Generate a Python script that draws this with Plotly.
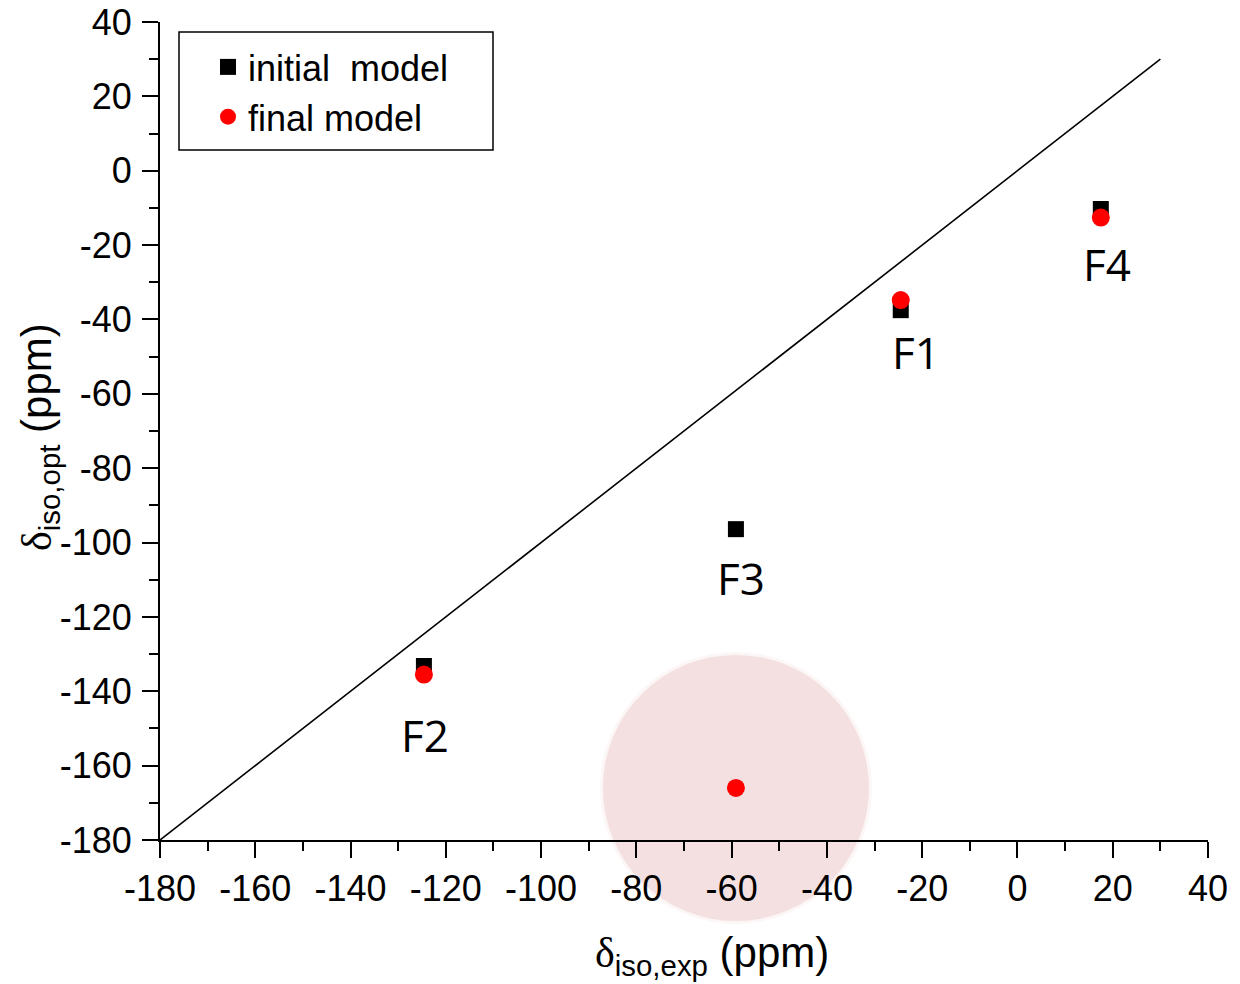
import plotly.graph_objects as go

# ---- data ----
initial_x = [-24.5, -124.6, -59.1, 17.5]
initial_y = [-37.5, -133.2, -96.4, -10.3]
final_x = [-24.5, -124.6, 17.5, -59.1]
final_y = [-34.8, -135.5, -12.6, -166.0]
diag_x = [-180, 30]
diag_y = [-180, 30]
label_text = ["F1", "F2", "F3", "F4"]
label_x = [-21.2, -124.4, -58.0, 18.8]
label_y = [-48.8, -151.8, -109.5, -25.1]
highlight_x = [-59.1]
highlight_y = [-166.0]
tick_vals = [-180, -160, -140, -120, -100, -80, -60, -40, -20, 0, 20, 40]
tick_text = ["-180", "-160", "-140", "-120", "-100", "-80", "-60", "-40", "-20", "0", "20", "40"]

fig = go.Figure()

# highlight circle (behind everything), with a soft edge
for size, color in [(272, "rgba(236,205,205,0.18)"), (266, "rgba(236,205,205,0.55)")]:
    fig.add_trace(go.Scatter(
        x=highlight_x, y=highlight_y, mode="markers", showlegend=False,
        marker=dict(size=size, color=color, line=dict(width=0)),
        cliponaxis=False, hoverinfo="skip"))

fig.add_trace(go.Scatter(
    x=diag_x, y=diag_y, mode="lines", showlegend=False,
    line=dict(color="black", width=1.6), hoverinfo="skip"))

fig.add_trace(go.Scatter(
    x=initial_x, y=initial_y, mode="markers", name="initial  model",
    marker=dict(symbol="square", size=16, color="black")))

fig.add_trace(go.Scatter(
    x=final_x, y=final_y, mode="markers", name="final model",
    marker=dict(symbol="circle", size=18, color="#ff0000")))

for t, x, y in zip(label_text, label_x, label_y):
    fig.add_annotation(x=x, y=y, xref="x", yref="y", text=t, showarrow=False,
                       font=dict(family="Open Sans", size=44, color="black"))

tickfont = dict(family="Liberation Sans, Arial", size=36, color="black")
axis_common = dict(
    showgrid=False, zeroline=False, showline=True, linecolor="black", linewidth=2,
    ticks="outside", ticklen=16, tickwidth=2, tickcolor="black",
    tickfont=tickfont, tickmode="array", tickvals=tick_vals, ticktext=tick_text,
    minor=dict(ticks="outside", ticklen=9, tickwidth=2, tickcolor="black",
               tickmode="linear", tick0=-180, dtick=10),
    mirror=False, automargin=False,
)
fig.update_xaxes(range=[-180, 40], **axis_common)
fig.update_yaxes(range=[-180, 40], ticklabelstandoff=3, **axis_common)

delta = "<span style='font-family:Liberation Serif, Times New Roman'>δ</span>"
# axis titles
fig.add_annotation(xref="paper", yref="paper", x=(712 - 160) / 1048, y=(840 - 955) / 818,
                   xanchor="center", yanchor="middle",
                   text=delta + "<sub>iso,exp</sub> (ppm)", showarrow=False,
                   font=dict(family="Liberation Sans, Arial", size=42, color="black"))
fig.add_annotation(xref="paper", yref="paper", x=(39 - 160) / 1048, y=(840 - 437) / 818,
                   xanchor="center", yanchor="middle",
                   text=delta + "<sub>iso,opt</sub> (ppm)", showarrow=False, textangle=-90,
                   font=dict(family="Liberation Sans, Arial", size=42, color="black"))

# legend frame
fig.add_shape(type="rect", xref="paper", yref="paper",
              x0=(179 - 160) / 1048, x1=(493 - 160) / 1048,
              y0=(840 - 150) / 818, y1=(840 - 32) / 818,
              line=dict(color="black", width=1.5), fillcolor="rgba(0,0,0,0)", layer="above")

fig.update_layout(
    width=1240, height=984, autosize=False,
    margin=dict(l=160, r=32, t=22, b=144),
    plot_bgcolor="white", paper_bgcolor="white",
    legend=dict(x=(208 - 160) / 1048, y=(840 - 37) / 818, xanchor="left", yanchor="top",
                bgcolor="rgba(0,0,0,0)", borderwidth=0,
                font=dict(family="Liberation Sans, Arial", size=36, color="black"),
                itemsizing="trace"),
)

fig.write_html("out.html")
